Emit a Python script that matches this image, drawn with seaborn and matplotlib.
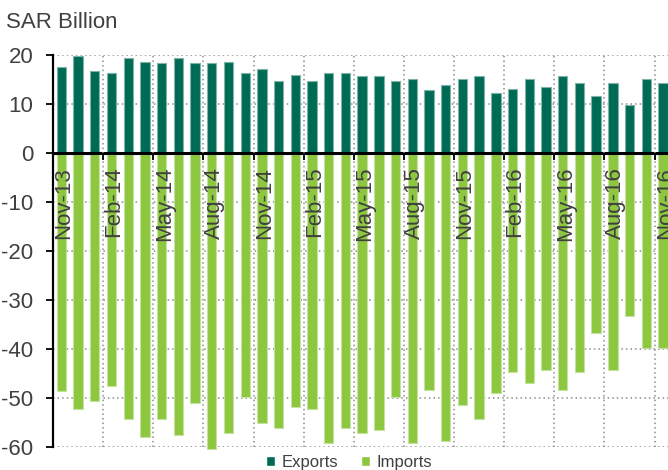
import matplotlib
matplotlib.use('Agg')
import matplotlib.pyplot as plt
import seaborn as sns
import pandas as pd
from matplotlib.ticker import FixedLocator, NullFormatter, FixedFormatter

months = ['Nov-13', 'Dec-13', 'Jan-14', 'Feb-14', 'Mar-14', 'Apr-14', 'May-14', 'Jun-14',
          'Jul-14', 'Aug-14', 'Sep-14', 'Oct-14', 'Nov-14', 'Dec-14', 'Jan-15', 'Feb-15',
          'Mar-15', 'Apr-15', 'May-15', 'Jun-15', 'Jul-15', 'Aug-15', 'Sep-15', 'Oct-15',
          'Nov-15', 'Dec-15', 'Jan-16', 'Feb-16', 'Mar-16', 'Apr-16', 'May-16', 'Jun-16',
          'Jul-16', 'Aug-16', 'Sep-16', 'Oct-16', 'Nov-16']

exports = [17.5, 19.8, 16.8, 16.4, 19.4, 18.6, 18.3, 19.4, 18.3, 18.3,
           18.6, 16.4, 17.1, 14.6, 16.0, 14.6, 16.4, 16.4, 15.7, 15.7,
           14.6, 15.0, 12.8, 13.8, 15.0, 15.7, 12.3, 13.0, 15.0, 13.4,
           15.7, 14.2, 11.6, 14.2, 9.8, 15.0, 14.2]

imports = [-48.7, -52.4, -50.6, -47.6, -54.3, -58.0, -54.3, -57.6, -51.0, -60.4,
           -57.3, -49.9, -55.1, -56.1, -51.8, -52.4, -59.2, -56.1, -57.3, -56.6,
           -49.9, -59.2, -48.4, -58.8, -51.4, -54.3, -49.1, -44.7, -46.9, -44.3,
           -48.4, -44.7, -36.8, -44.3, -33.4, -39.8, -39.8]

series_names = ['Exports', 'Imports']
y_ticks = [-60, -50, -40, -30, -20, -10, 0, 10, 20]

sns.set_theme(style='white')
plt.rcParams['font.family'] = ['Liberation Sans', 'DejaVu Sans']
plt.rcParams['axes.unicode_minus'] = False

TXT = '#404040'
colors = {'Exports': '#006B54', 'Imports': '#8DC63F'}
edges = {'Exports': '#7FB5A9', 'Imports': '#C6E29F'}

fig = plt.figure(figsize=(6.68, 4.70), dpi=100)
ax = fig.add_axes([53 / 668, 1 - 446.7 / 470, (668 - 53) / 668, (446.7 - 55) / 470])

df = pd.DataFrame({
    'Month': months * 2,
    'Value': exports + imports,
    'Series': ['Exports'] * len(months) + ['Imports'] * len(months),
})

sns.barplot(data=df, x='Month', y='Value', hue='Series', order=months,
            hue_order=series_names, palette=colors, dodge=False, width=0.56,
            saturation=1, ax=ax)

for cont, name in zip(ax.containers, series_names):
    for p in cont:
        p.set_edgecolor(edges[name])
        p.set_linewidth(0.8)
        p.set_clip_on(False)
        p.set_zorder(2)

handles, labels = ax.get_legend_handles_labels()
if ax.get_legend() is not None:
    ax.get_legend().remove()

ax.set_xlim(-0.5, 36.3)
ax.set_ylim(-60, 20)
ax.set_xlabel('')
ax.set_ylabel('')

for s in ['top', 'right']:
    ax.spines[s].set_visible(False)
ax.spines['left'].set_color('black')
ax.spines['left'].set_linewidth(1.6)
ax.spines['bottom'].set_position(('data', 0))
ax.spines['bottom'].set_color('black')
ax.spines['bottom'].set_linewidth(2.2)
ax.spines['bottom'].set_zorder(3)

bounds = [i - 0.5 for i in range(3, len(months), 3)]
centers = list(range(0, len(months), 3))
ax.xaxis.set_major_locator(FixedLocator(bounds))
ax.xaxis.set_major_formatter(NullFormatter())
ax.xaxis.set_minor_locator(FixedLocator(centers))
ax.xaxis.set_minor_formatter(FixedFormatter([months[i] for i in centers]))

ax.set_yticks(y_ticks)
ax.set_yticklabels([str(v) for v in y_ticks])

ax.tick_params(axis='x', which='major', length=5, width=1.3, color='black',
               direction='out', bottom=True)
ax.tick_params(axis='x', which='minor', length=0, pad=10, labelrotation=90,
               labelsize=16, labelcolor=TXT, bottom=True)
ax.tick_params(axis='y', which='major', length=5, width=1.3, color='black',
               direction='out', left=True, pad=9, labelsize=16, labelcolor=TXT)
for lab in ax.xaxis.get_minorticklabels():
    lab.set_rotation_mode('anchor')
    lab.set_horizontalalignment('right')
    lab.set_verticalalignment('center_baseline')

ax.set_axisbelow(True)
ax.grid(axis='y', which='major', linestyle=(0, (1, 2)), color='#8c8c8c', linewidth=1.1)
ax.grid(axis='x', which='major', linestyle=(0, (1, 2)), color='#8c8c8c', linewidth=1.1)
ax.grid(axis='x', which='minor', visible=False)
# x axis (vertical grid lines lie between bars) drawn above the bars so labels show
ax.xaxis.set_zorder(4)

fig.text(6 / 668, 1 - 28.5 / 470, 'SAR Billion', fontsize=16, color=TXT,
         ha='left', va='baseline')

fig.legend(handles, labels, loc='center', bbox_to_anchor=(349 / 668, 1 - 462.5 / 470),
           ncol=2, frameon=False, fontsize=12, labelcolor=TXT,
           handlelength=0.55, handleheight=0.55, handletextpad=0.35,
           columnspacing=1.4, borderaxespad=0, borderpad=0)

fig.savefig('out.png', dpi=100)
